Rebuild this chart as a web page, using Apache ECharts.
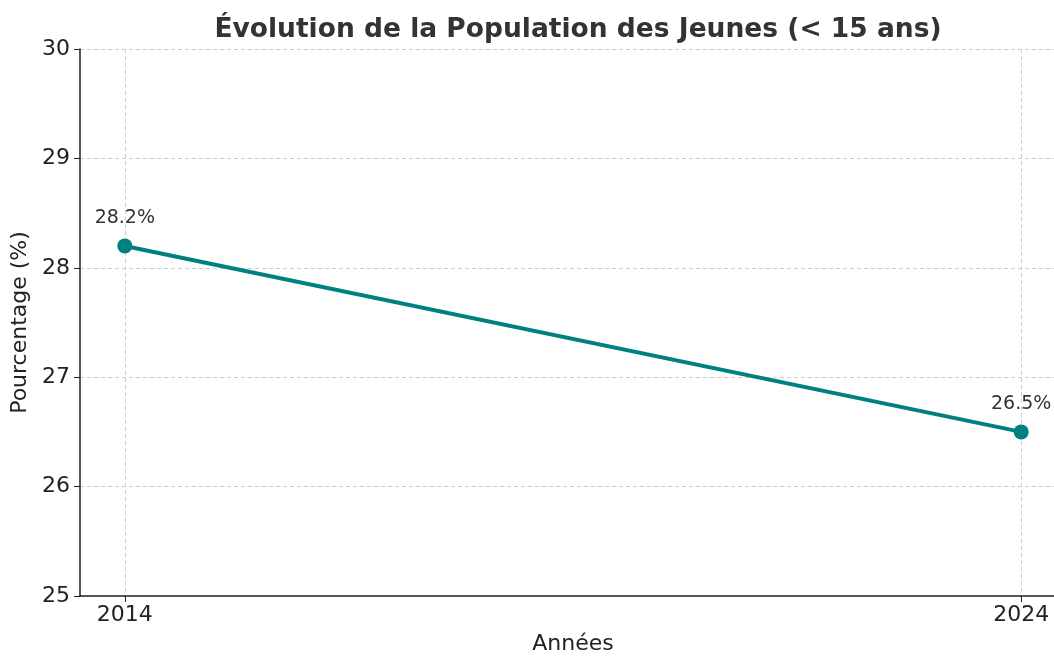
<!DOCTYPE html>
<html>
<head>
<meta charset="utf-8">
<script src="https://cdn.jsdelivr.net/npm/echarts@6/dist/echarts.min.js"></script>
<style>
  html, body { margin: 0; padding: 0; background: #fff; }
  #chart { width: 1054px; height: 660px; }
</style>
</head>
<body>
<div id="chart"></div>
<script>
  // données
  const annees = [2014, 2024];
  const pourcentages = [28.2, 26.5];
  const yTicks = [25, 26, 27, 28, 29, 30];

  const font = 'DejaVu Sans';
  const myChart = echarts.init(document.getElementById('chart'));

  const option = {
    animation: false,
    title: {
      text: 'Évolution de la Population des Jeunes (< 15 ans)',
      left: 573,
      textAlign: 'center',
      top: 12,
      textStyle: { fontFamily: font, fontSize: 26.5, fontWeight: 'bold', color: '#333' }
    },
    // la zone de tracé dépasse à droite, comme dans l'original
    grid: { left: 80, top: 49, right: -12, bottom: 64, containLabel: false, outerBoundsMode: 'none' },
    xAxis: {
      type: 'value',
      min: 2013.5,
      max: 2024.5,
      name: 'Années',
      nameLocation: 'middle',
      nameGap: 37,
      nameTextStyle: { fontFamily: font, fontSize: 22, color: '#222' },
      axisLine: { show: true, lineStyle: { color: '#222', width: 1.5 } },
      axisTick: { show: true, length: 6, lineStyle: { color: '#222' }, customValues: annees },
      axisLabel: {
        fontFamily: font, fontSize: 22, color: '#222', margin: 8,
        customValues: annees,
        formatter: v => String(v)
      },
      splitLine: { show: true, lineStyle: { color: '#ccc', type: [4, 3], width: 1 } }
    },
    yAxis: {
      type: 'value',
      min: yTicks[0],
      max: yTicks[yTicks.length - 1],
      interval: 1,
      name: 'Pourcentage (%)',
      nameLocation: 'middle',
      nameGap: 46,
      nameTextStyle: { fontFamily: font, fontSize: 22, color: '#222' },
      axisLine: { show: true, lineStyle: { color: '#222', width: 1.5 } },
      axisTick: { show: true, length: 6, lineStyle: { color: '#222' } },
      axisLabel: { fontFamily: font, fontSize: 22, color: '#222', margin: 10 },
      splitLine: { show: true, lineStyle: { color: '#ccc', type: [4, 3], width: 1 } }
    },
    series: [
      {
        type: 'line',
        data: annees.map((a, i) => [a, pourcentages[i]]),
        symbol: 'circle',
        symbolSize: 15,
        lineStyle: { color: '#008080', width: 4 },
        itemStyle: { color: '#008080' },
        label: {
          show: true,
          position: 'top',
          distance: 11,
          formatter: p => p.value[1].toFixed(1) + '%',
          fontFamily: font,
          fontSize: 19,
          color: '#333'
        }
      }
    ]
  };

  myChart.setOption(option);
</script>
</body>
</html>
